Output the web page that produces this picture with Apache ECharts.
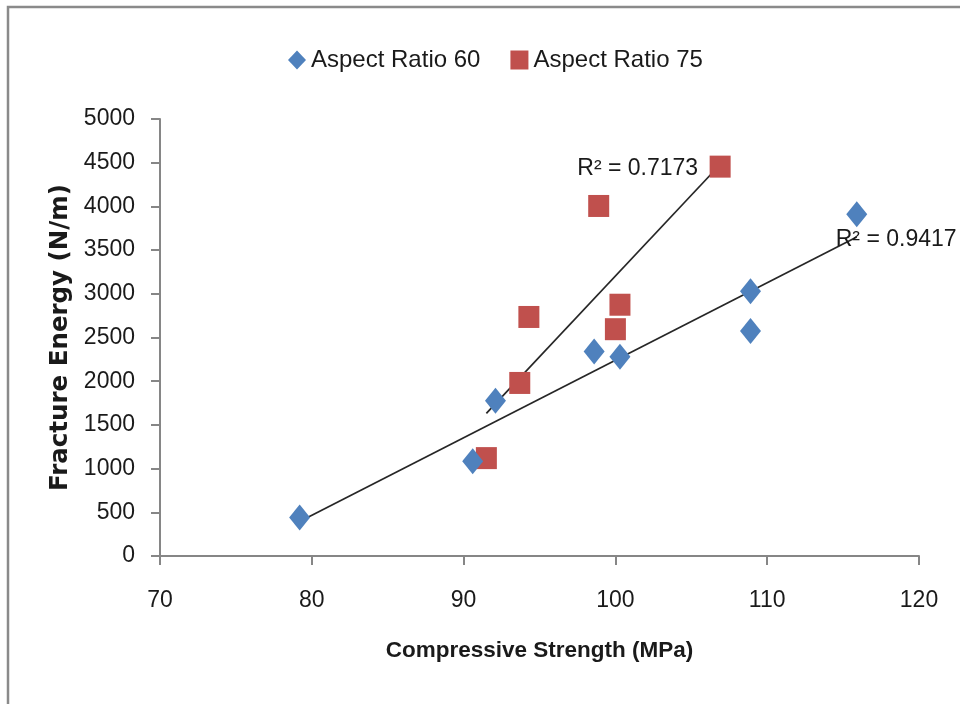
<!DOCTYPE html>
<html>
<head>
<meta charset="utf-8">
<script src="https://cdn.jsdelivr.net/npm/echarts@6/dist/echarts.min.js"></script>
<style>
  html, body { margin: 0; padding: 0; background: #fff; }
  #chart { width: 960px; height: 704px; }
</style>
</head>
<body>
<div id="chart"></div>
<script>
// Compressive strength (MPa) and fracture energy (N/m) per fibre aspect ratio
var ar60Strength = [79.2, 90.6, 92.1, 98.6, 100.3, 108.9, 108.9, 115.9];
var ar60Energy   = [440, 1085, 1775, 2340, 2280, 3030, 2575, 3910];
var ar75Strength = [91.5, 93.7, 94.3, 98.9, 100.3, 100.0, 106.9];
var ar75Energy   = [1120, 1980, 2735, 4005, 2875, 2595, 4455];

var seriesNames = ['Aspect Ratio 60', 'Aspect Ratio 75'];
var r2Labels = ['R\u00B2 = 0.9417', 'R\u00B2 = 0.7173'];

var xTicks = { min: 70, max: 120, interval: 10 };
var yTicks = { min: 0, max: 5000, interval: 500 };

var BLUE = '#4F81BD';
var RED = '#C0504D';
var TEXT = "'Liberation Sans', Arial, sans-serif";

function pairs(xs, ys) {
  return xs.map(function (x, i) { return [x, ys[i]]; });
}

// Ordinary least-squares line over the range of the measured strengths
function linearFit(xs, ys) {
  var n = xs.length, mx = 0, my = 0;
  for (var i = 0; i < n; i++) { mx += xs[i]; my += ys[i]; }
  mx /= n; my /= n;
  var sxy = 0, sxx = 0;
  for (var j = 0; j < n; j++) {
    sxy += (xs[j] - mx) * (ys[j] - my);
    sxx += (xs[j] - mx) * (xs[j] - mx);
  }
  var slope = sxy / sxx, icpt = my - slope * mx;
  var x0 = Math.min.apply(null, xs), x1 = Math.max.apply(null, xs);
  return [[x0, icpt + slope * x0], [x1, icpt + slope * x1]];
}

function trendSeries(xs, ys, text, labelAlign, labelOffset) {
  var pts = linearFit(xs, ys);
  return {
    type: 'line',
    data: [
      { value: pts[0] },
      {
        value: pts[1],
        label: {
          show: true,
          formatter: text,
          position: 'inside',
          align: labelAlign,
          verticalAlign: 'middle',
          offset: labelOffset,
          fontFamily: TEXT,
          fontSize: 23,
          color: '#1a1a1a'
        }
      }
    ],
    symbol: 'circle',
    symbolSize: 1,
    showSymbol: true,
    itemStyle: { color: 'rgba(0,0,0,0)' },
    silent: true,
    lineStyle: { color: '#262626', width: 1.7 },
    z: 1
  };
}

var chart = echarts.init(document.getElementById('chart'), null, { renderer: 'canvas' });

chart.setOption({
  animation: false,
  backgroundColor: '#fff',
  graphic: [{
    type: 'rect',
    shape: { x: 8, y: 7, width: 1000, height: 800 },
    style: { fill: null, stroke: '#8a8a8a', lineWidth: 2.5 },
    silent: true
  }],
  legend: {
    data: seriesNames,
    left: 283,
    top: 43,
    itemWidth: 18,
    itemHeight: 19,
    itemGap: 30,
    textStyle: { fontFamily: TEXT, fontSize: 24, color: '#1a1a1a' }
  },
  grid: { left: 160, right: 41, top: 119, bottom: 148, containLabel: false },
  xAxis: {
    type: 'value',
    min: xTicks.min, max: xTicks.max, interval: xTicks.interval,
    name: 'Compressive Strength (MPa)',
    nameLocation: 'middle',
    nameGap: 83,
    nameTextStyle: { fontFamily: TEXT, fontWeight: 'bold', fontSize: 22.5, color: '#1a1a1a' },
    axisLine: { lineStyle: { color: '#868686', width: 2 } },
    axisTick: { show: true, inside: false, length: 9, lineStyle: { color: '#868686', width: 2 } },
    axisLabel: { margin: 33, fontFamily: TEXT, fontSize: 23, color: '#1a1a1a',
                 formatter: function (v) { return String(v); } },
    splitLine: { show: false }
  },
  yAxis: {
    type: 'value',
    min: yTicks.min, max: yTicks.max, interval: yTicks.interval,
    name: 'Fracture Energy (N/m)',
    nameLocation: 'middle',
    nameRotate: 90,
    nameGap: 80,
    nameTextStyle: { fontFamily: "'DejaVu Sans', sans-serif", fontWeight: 'bold', fontSize: 24.5, color: '#1a1a1a' },
    axisLine: { show: true, lineStyle: { color: '#868686', width: 2 } },
    axisTick: { show: true, inside: false, length: 9, lineStyle: { color: '#868686', width: 2 } },
    axisLabel: { margin: 25, fontFamily: TEXT, fontSize: 23, color: '#1a1a1a',
                 formatter: function (v) { return String(v); } },
    splitLine: { show: false }
  },
  series: [
    {
      name: seriesNames[0],
      type: 'scatter',
      symbol: 'diamond',
      symbolSize: [21, 26],
      itemStyle: { color: BLUE, opacity: 1 },
      data: pairs(ar60Strength, ar60Energy),
      z: 3
    },
    {
      name: seriesNames[1],
      type: 'scatter',
      symbol: 'rect',
      symbolSize: [21, 22],
      itemStyle: { color: RED, opacity: 1 },
      data: pairs(ar75Strength, ar75Energy),
      z: 2
    },
    trendSeries(ar60Strength, ar60Energy, r2Labels[0], 'left', [-21, 3]),
    trendSeries(ar75Strength, ar75Energy, r2Labels[1], 'right', [-22, 4])
  ]
});
</script>
</body>
</html>
